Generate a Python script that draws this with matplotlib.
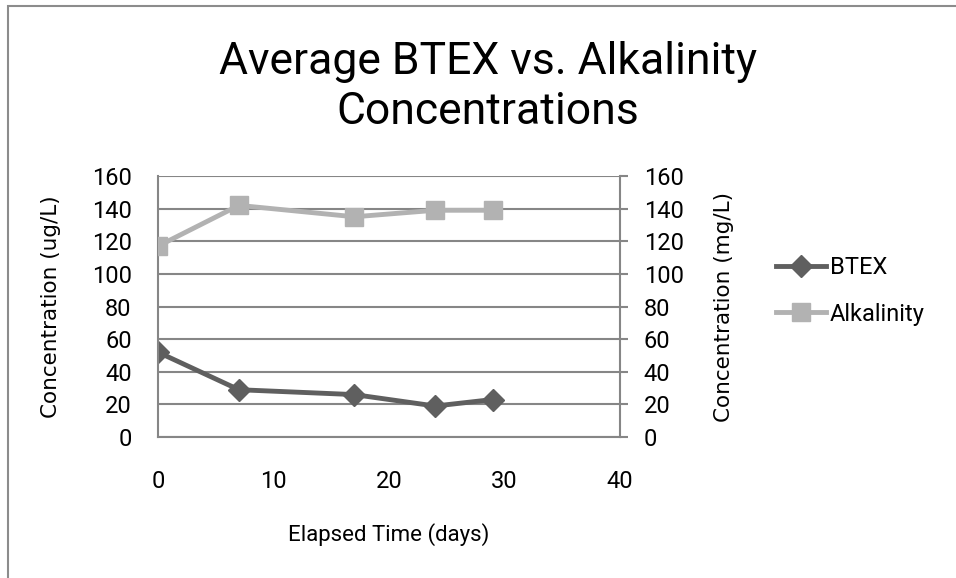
import matplotlib.pyplot as plt
from matplotlib.patches import Rectangle

plt.rcParams['font.family'] = ['Roboto', 'DejaVu Sans']

days = [0, 7, 17, 24, 29]
btex = [52, 29, 26, 19, 23]
alkalinity = [117, 142, 135, 139, 139]
y_ticks = [0, 20, 40, 60, 80, 100, 120, 140, 160]
x_ticks = [0, 10, 20, 30, 40]

axis_grey = '#868686'

fig = plt.figure(figsize=(9.56, 5.78), dpi=100)
# outer chart-area frame
fig.patches.append(Rectangle((8 / 956, -0.1), 1.2, 1 - 6 / 578 + 0.1,
                             transform=fig.transFigure, fill=False,
                             edgecolor='#8c8c8c', linewidth=1.5))

ax = fig.add_axes([0.1653, 0.2439, 0.4832, 0.4516])
ax2 = ax.twinx()

l1, = ax.plot(days, btex, color='#5f5f5f', linewidth=3.5,
              marker='D', markersize=11, label='BTEX')
l2, = ax2.plot(days, alkalinity, color='#b2b2b2', linewidth=3.5,
               marker='s', markersize=13, label='Alkalinity')

for a in (ax, ax2):
    a.set_ylim(0, 160)
    a.set_yticks(y_ticks)
    for s in a.spines.values():
        s.set_visible(False)
ax.set_xlim(0, 40)
ax.set_xticks(x_ticks)
ax.yaxis.grid(True, color=axis_grey, linewidth=1.5)
ax.set_axisbelow(True)
ax.spines['left'].set_visible(True)
ax.spines['bottom'].set_visible(True)
ax2.spines['right'].set_visible(True)
for s in (ax.spines['left'], ax.spines['bottom'], ax2.spines['right']):
    s.set_color(axis_grey)
    s.set_linewidth(1.5)

ax.tick_params(axis='y', length=0, pad=19, labelsize=17)
ax.tick_params(axis='x', length=0, pad=24, labelsize=17)
ax2.tick_params(axis='y', length=6, width=1.5, color=axis_grey,
                pad=11, labelsize=17)

label_font = dict(family=['DejaVu Sans'], fontsize=15.5)
ax.set_ylabel('Concentration (ug/L)', labelpad=22, **label_font)
ax2.set_ylabel('Concentration (mg/L)', labelpad=22, **label_font)
ax.set_xlabel('Elapsed Time (days)', fontsize=16, labelpad=21)

fig.text(0.51, 0.85, 'Average BTEX vs. Alkalinity\nConcentrations',
         ha='center', va='center', fontsize=32, linespacing=1.25)

fig.legend(handles=[l1, l2], loc='center left',
           bbox_to_anchor=(0.79, 0.497), frameon=False, fontsize=17,
           handlelength=2.1, handletextpad=0.15, labelspacing=1.0)

fig.savefig('out.png', dpi=100)
